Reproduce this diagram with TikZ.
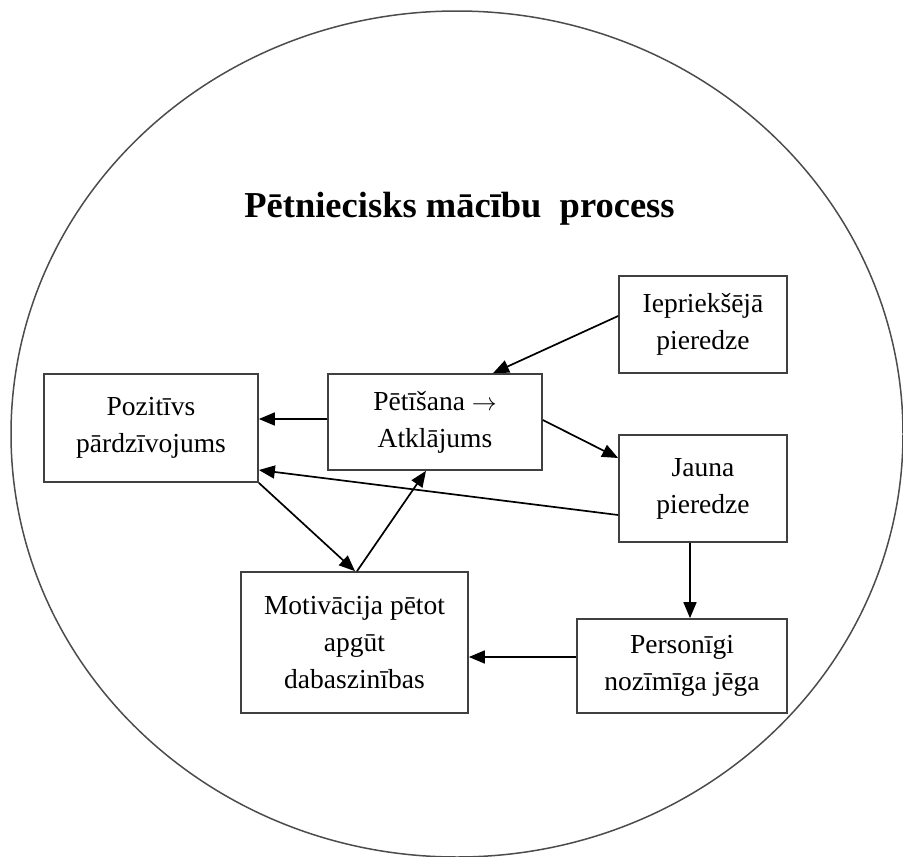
\documentclass[tikz,border=0pt]{standalone}
\usepackage{fontspec}
\setmainfont{Liberation Serif}
\usetikzlibrary{arrows.meta}
\begin{document}
\begin{tikzpicture}[x=1pt,y=-1pt,
  box/.style={draw=black!75,line width=1.7pt,rectangle,align=center,inner sep=0pt,
    font=\fontsize{27.5}{37}\selectfont},
  conn/.style={line width=1.7pt,-{Triangle[length=16pt,width=13pt]}}]
\useasboundingbox (0,0) rectangle (903,857);
\draw[black!70,line width=1.5pt] (457,434) ellipse [x radius=446, y radius=423];
\node[anchor=base,font=\fontsize{36.5}{42}\selectfont\bfseries] (title) at (459.5,217) {Pētniecisks mācību~ process};
\node[box,minimum width=214pt,minimum height=108pt] (poz) at (151,428) {Pozitīvs\\pārdzīvojums};
\node[box,minimum width=214pt,minimum height=96pt] (pet) at (435,422) {Pētīšana \(\rightarrow\)\\Atklājums};
\node[box,minimum width=168pt,minimum height=97pt] (iep) at (703,324.5) {Iepriekšējā\\pieredze};
\node[box,minimum width=168pt,minimum height=107pt] (jau) at (703,488.5) {Jauna\\pieredze};
\node[box,minimum width=227pt,minimum height=141pt] (mot) at (354.5,642.5) {Motivācija pētot\\apgūt\\dabaszinības};
\node[box,minimum width=210pt,minimum height=94pt] (per) at (682,666) {Personīgi\\nozīmīga jēga};
\draw[conn] ([yshift=8.5pt]iep.west) -- ([xshift=58pt]pet.north);
\draw[conn] ([yshift=3pt]pet.west) -- ([yshift=3pt]pet.west -| poz.east);
\draw[conn] ([yshift=2pt]pet.east) -- ([yshift=30.5pt]jau.west);
\draw[conn] ([yshift=-26.5pt]jau.west) -- ([yshift=-42pt]poz.east);
\draw[conn] (poz.south east) -- ([xshift=0.5pt]mot.north);
\draw[conn] ([xshift=2.5pt]mot.north) -- ([xshift=-9pt]pet.south);
\draw[conn] ([xshift=-13pt]jau.south) -- ([xshift=-13pt]jau.south |- per.north);
\draw[conn] ([yshift=9pt]per.west) -- ([yshift=9pt]per.west -| mot.east);
\end{tikzpicture}
\end{document}
